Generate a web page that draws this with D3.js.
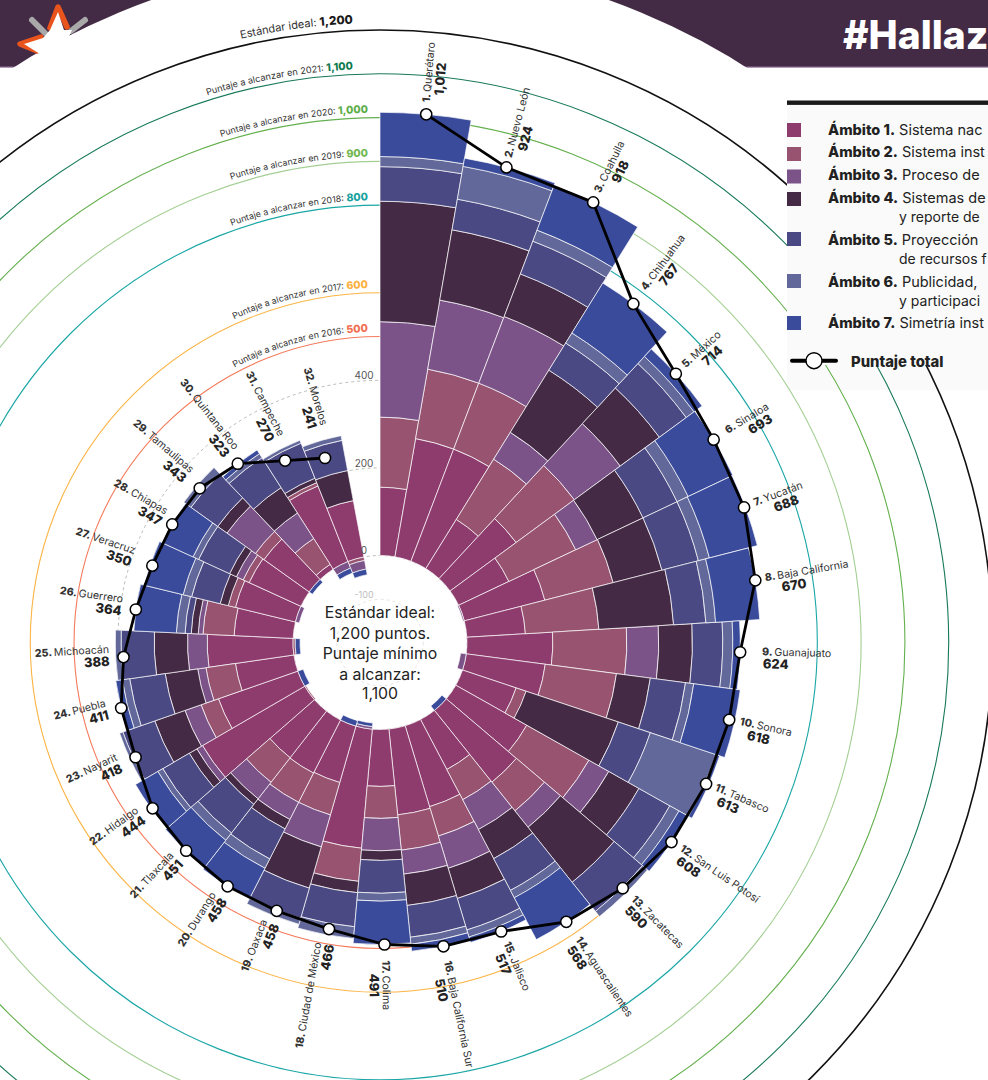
<!DOCTYPE html>
<html lang="es"><head><meta charset="utf-8">
<script src="https://cdn.jsdelivr.net/npm/d3@7"></script>
<style>html,body{margin:0;padding:0;background:#fff;overflow:hidden}svg{display:block}text{font-family:Inter,"Noto Sans",sans-serif}</style>
</head><body><svg id="c" width="988" height="1080"></svg>
<script>
const states=["Querétaro","Nuevo León","Coahuila","Chihuahua","México","Sinaloa","Yucatán","Baja California","Guanajuato","Sonora","Tabasco","San Luis Potosí","Zacatecas","Aguascalientes","Jalisco","Baja California Sur","Colima","Ciudad de México","Oaxaca","Durango","Tlaxcala","Hidalgo","Nayarit","Puebla","Michoacán","Guerrero","Veracruz","Chiapas","Tamaulipas","Quintana Roo","Campeche","Morelos"];
const totals=[1012,924,918,767,714,693,688,670,624,618,613,608,590,568,517,510,491,466,458,458,451,444,418,411,388,364,350,347,343,323,270,241];
const ambito1=[156,274,274,132,187,127,190,134,196,182,129,186,210,129,193,197,130,273,134,136,135,270,192,135,196,135,141,130,127,13,186,131];
const ambito2=[160,161,161,162,165,169,161,168,169,164,24,163,84,78,70,81,73,76,77,75,71,-3,42,68,-5,71,17,15,24,70,8,-8];
const ambito3=[218,160,163,72,130,54,-3,0,73,-13,0,52,48,77,77,55,74,-6,76,44,48,15,39,19,45,11,-9,17,80,69,-16,-20];
const ambito4=[275,163,104,167,111,116,115,171,77,78,222,79,161,75,72,72,22,26,98,24,16,20,73,75,76,16,19,17,26,69,11,70];
const ambito5=[79,71,80,73,76,86,86,74,69,81,77,81,85,82,75,73,75,78,72,77,83,70,77,82,76,14,67,78,75,81,86,70];
const ambito6=[23,76,27,27,22,28,26,22,23,19,158,24,15,19,17,16,18,27,14,24,21,13,8,17,13,20,20,14,20,11,7,11];
const ambito7=[101,19,109,134,23,113,113,101,17,107,9,23,-13,108,13,16,99,-8,-13,78,77,59,-13,15,-11,97,91,76,-9,10,-12,-13];
const series=[ambito1,ambito2,ambito3,ambito4,ambito5,ambito6,ambito7];
const seriesColors=["#8e3b6e","#97536f","#7b5389","#452a45","#4a4983","#62699a","#394b9a"];
const targetValues=[500,600,800,900,1000,1100,1200];
const targetLabels=["Puntaje a alcanzar en 2016: ","Puntaje a alcanzar en 2017: ","Puntaje a alcanzar en 2018: ","Puntaje a alcanzar en 2019: ","Puntaje a alcanzar en 2020: ","Puntaje a alcanzar en 2021: ","Estándar ideal: "];
const targetColors=["#f47a5a","#fbb445","#1ba6a6","#a3cf93","#64b04e","#17795a","#111111"];
const targetValueColors=["#f26d4f","#fbb040","#17a2a0","#6fb74e","#5cae48","#0e7a4f","#1a1a1a"];
const gridValues=[400,200,0,-100];
const centerLines=["Estándar ideal:","1,200 puntos.","Puntaje mínimo","a alcanzar:","1,100"];
const legendRows=[
 ["Ámbito 1."," Sistema nac",null],["Ámbito 2."," Sistema inst",null],["Ámbito 3."," Proceso de",null],
 ["Ámbito 4."," Sistemas de","y reporte de"],["Ámbito 5."," Proyección","de recursos f"],
 ["Ámbito 6."," Publicidad,","y participaci"],["Ámbito 7."," Simetría inst",null]];
// layout only: distance between each point and its label, and inset of the total in the right half
const labelGaps=[12,10,11,18,11,15,11,10,22,11,10,11,14,20,12,15,16,15,13,13,12,13,17,14,14,14,21,11,17,13,24,32];
const totalInsets=[8,10,17,15,17,20,17,15,1,10,7,4,3,3,8,16,13];

const cx=380,cy=642.5;
const svg=d3.select("#c");
const r=d3.scaleLinear().domain([0,1200]).range([87,612.5]);
const edgeDeg=d3.scaleLinear().domain([1,32]).range([9.9,349.35]);
const rad=d=>d*Math.PI/180;
const startDeg=i=>i===0?0:edgeDeg(i);       // i is zero-based
const endDeg=i=>edgeDeg(i+1);
const dotDeg=i=>startDeg(i)+5;

// header
svg.append("rect").attr("x",0).attr("y",0).attr("width",988).attr("height",67).attr("fill","#432a45");
svg.append("rect").attr("x",0).attr("y",66.5).attr("width",988).attr("height",1.2).attr("fill","#8f7396");
svg.append("circle").attr("cx",cx).attr("cy",cy).attr("r",682).attr("fill","#fff");
svg.append("text").attr("x",843).attr("y",49).attr("fill","#fff").attr("font-size",39).attr("font-weight",800).text("#Hallaz");
// logo
const logo=svg.append("g").attr("fill","none").attr("stroke-linecap","round").attr("stroke-linejoin","round");
logo.append("path").attr("d","M32 20L45 33M85 20L71 31").attr("stroke","#a9a9a9").attr("stroke-width",6);
logo.append("path").attr("d","M50 28L58 7L67 27M41 37L20 44L37 51").attr("stroke","#e9541c").attr("stroke-width",5.5);
logo.append("path").attr("d","M58 12L64 30L72 30L62 52L40 54L24 44L43 38L50 30Z").attr("fill","#fff").attr("stroke","none");

// legend background below the rings
svg.append("rect").attr("x",787).attr("y",105).attr("width",201).attr("height",285).attr("fill","#fafafa");

const g=svg.append("g").attr("transform",`translate(${cx},${cy})`);
// target rings
g.selectAll("circle.t").data(targetValues).join("circle").attr("class","t")
 .attr("r",d=>r(d)).attr("fill","none")
 .attr("stroke",(d,i)=>targetColors[i]).attr("stroke-width",(d,i)=>i===6?1.6:1.1);
// grid rings
g.selectAll("circle.g").data(gridValues).join("circle").attr("class","g")
 .attr("r",d=>r(d)).attr("fill","none").attr("stroke",d=>d<0?"#dddddd":"#a8a8a8")
 .attr("stroke-width",.8).attr("stroke-dasharray","3 3");

// bars
const rows=states.map((s,i)=>{const o={i};series.forEach((a,k)=>o["a"+k]=a[i]);return o;});
const stack=d3.stack().keys(series.map((a,k)=>"a"+k)).offset(d3.stackOffsetDiverging)(rows);
const arc=d3.arc();
g.selectAll("g.s").data(stack).join("g").attr("class","s").attr("fill",(d,k)=>seriesColors[k])
 .selectAll("path").data(d=>d.filter(p=>p[1]!==p[0])).join("path")
 .attr("d",p=>arc({innerRadius:r(p[0]),outerRadius:r(p[1]),startAngle:rad(startDeg(p.data.i)),endAngle:rad(endDeg(p.data.i))}))
 .attr("stroke","#fff").attr("stroke-opacity",.85).attr("stroke-width",.8);

// total line
const line=d3.lineRadial().angle((d,i)=>rad(dotDeg(i))).radius(d=>r(d));
g.append("path").attr("d",line(totals)).attr("fill","none").attr("stroke","#000").attr("stroke-width",2.8).attr("stroke-linejoin","round");
g.selectAll("circle.d").data(totals).join("circle").attr("class","d")
 .attr("cx",(d,i)=>r(d)*Math.sin(rad(dotDeg(i))))
 .attr("cy",(d,i)=>-r(d)*Math.cos(rad(dotDeg(i))))
 .attr("r",5.6).attr("fill","#fff").attr("stroke","#000").attr("stroke-width",1.5);

// legend cover and content
svg.append("rect").attr("x",787).attr("y",105).attr("width",201).attr("height",260).attr("fill","#fafafa");
svg.append("rect").attr("x",787).attr("y",100.5).attr("width",201).attr("height",4.4).attr("fill","#1a1a1a");
const legendSwatchY=[123,147,169.5,192,232,274,316];
const legendTextY=[135,157,180,203,245,287,328];
legendRows.forEach((row,i)=>{
  svg.append("rect").attr("x",787).attr("y",legendSwatchY[i]).attr("width",14).attr("height",14).attr("fill",seriesColors[i]);
  const t=svg.append("text").attr("x",828).attr("y",legendTextY[i]).attr("font-size",14.5).attr("fill","#222");
  t.append("tspan").attr("font-weight",800).text(row[0]);
  t.append("tspan").attr("font-weight",400).text(row[1]);
  if(row[2]) svg.append("text").attr("x",899).attr("y",legendTextY[i]+19).attr("font-size",14).attr("fill","#222").text(row[2]);
});
svg.append("line").attr("x1",792).attr("x2",836).attr("y1",360.7).attr("y2",360.7).attr("stroke","#000").attr("stroke-width",4).attr("stroke-linecap","round");
svg.append("circle").attr("cx",814).attr("cy",360.7).attr("r",8).attr("fill","#fff").attr("stroke","#000").attr("stroke-width",1.4);
svg.append("text").attr("x",851).attr("y",367).attr("font-size",14.8).attr("font-weight",800).attr("fill","#222").text("Puntaje total");

// curved target labels
const defs=svg.append("defs");
targetValues.forEach((v,i)=>{
  const R=r(v)+(v===1200?7:5);
  const endX=v>=1100?27:12;                 // how far left of the top the text stops
  const endY=Math.sqrt(R*R-endX*endX);
  const id="p"+v;
  defs.append("path").attr("id",id).attr("d",`M${-R} 0A${R} ${R} 0 0 1 ${-endX} ${-endY}`);
  const t=g.append("text").attr("font-size",v===1200?11:(v===1100?9.2:8.9)).attr("fill","#333").attr("text-anchor","end");
  const tp=t.append("textPath").attr("href","#"+id).attr("startOffset","100%");
  tp.append("tspan").text(targetLabels[i]);
  tp.append("tspan").attr("font-weight",800).attr("font-size",v===1200?11.8:10.5).attr("fill",targetValueColors[i]).text(d3.format(",")(v));
});

// grid tick labels
gridValues.forEach(v=>{
  svg.append("text").attr("x",364).attr("y",cy-r(v)-(v===0?2:1)).attr("text-anchor","middle")
   .attr("font-size",v<0?9:10).attr("fill",v<0?"#bdbdbd":"#555").text(v);
});

// state labels
const fmt=d3.format(",");
states.forEach((s,i)=>{
  const th=dotDeg(i), rr=r(totals[i])+labelGaps[i], right=i<17;
  const lab=g.append("g").attr("transform",right?`rotate(${th-90}) translate(${rr},0)`:`rotate(${th+90}) translate(${-rr},0)`);
  const t=lab.append("text").attr("font-size",10.6).attr("fill","#333").attr("y",right?2.5:-5).attr("text-anchor",right?"start":"end");
  t.append("tspan").attr("font-weight",800).text((i+1)+". ");
  t.append("tspan").text(s);
  lab.append("text").attr("x",right?totalInsets[i]:0).attr("y",right?15.5:8).attr("text-anchor",right?"start":"end")
    .attr("font-size",13).attr("font-weight",800).attr("fill","#222").text(fmt(totals[i]));
});

// centre text
const centerY=[618,639,659,680,699];
centerLines.forEach((l,i)=>svg.append("text").attr("x",cx).attr("y",centerY[i]).attr("text-anchor","middle").attr("font-size",15.8).attr("fill","#222").text(l));
</script></body></html>
